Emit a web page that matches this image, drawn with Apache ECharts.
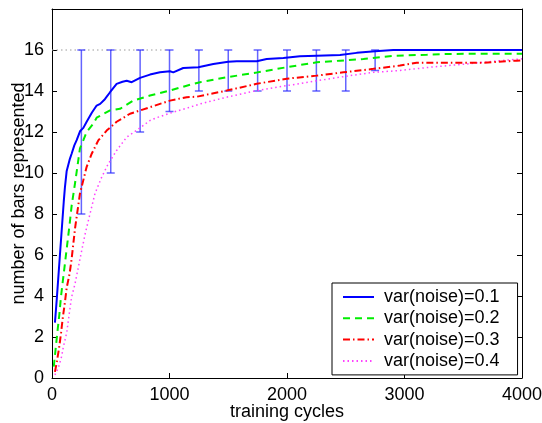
<!DOCTYPE html>
<html>
<head>
<meta charset="utf-8">
<script src="https://cdn.jsdelivr.net/npm/echarts@6/dist/echarts.min.js"></script>
<style>
html,body{margin:0;padding:0;background:#fff;}
#chart{width:542px;height:423px;}
</style>
</head>
<body>
<div id="chart"></div>
<script>
// ---- data ----
const xTicks = [0, 1000, 2000, 3000, 4000];
const yTicks = [0, 2, 4, 6, 8, 10, 12, 14, 16];

const s1Name = 'var(noise)=0.1';
const s1X = [25, 40, 60, 80, 100, 110, 125, 150, 167, 190, 210, 240, 267, 295, 340, 380, 410, 450, 494, 550, 600, 636, 678, 749, 834, 919, 1004, 1032, 1117, 1245, 1373, 1500, 1572, 1742, 1827, 1969, 2110, 2253, 2451, 2593, 2749, 2904, 4000];
const s1Y = [2.7, 3.8, 5.4, 7.0, 8.6, 9.3, 10.1, 10.65, 10.94, 11.35, 11.6, 12.05, 12.2, 12.5, 12.95, 13.29, 13.37, 13.6, 13.94, 14.35, 14.45, 14.5, 14.43, 14.64, 14.8, 14.91, 14.96, 14.91, 15.12, 15.16, 15.32, 15.43, 15.45, 15.45, 15.56, 15.61, 15.69, 15.72, 15.76, 15.86, 15.94, 16.0, 16.0];

const s2Name = 'var(noise)=0.2';
const s2X = [15, 25, 47, 62, 77, 100, 125, 150, 167, 196, 238, 267, 295, 351, 380, 494, 579, 692, 834, 1004, 1146, 1260, 1487, 1742, 1997, 2253, 2451, 2650, 2904, 3189, 3387, 4000];
const s2Y = [0.55, 1.1, 2.3, 3.07, 4.0, 5.1, 6.3, 7.5, 8.4, 9.5, 11.2, 11.6, 12.0, 12.4, 12.7, 13.05, 13.13, 13.53, 13.78, 14.02, 14.26, 14.43, 14.67, 14.9, 15.16, 15.4, 15.48, 15.56, 15.72, 15.77, 15.81, 15.82];

const s3Name = 'var(noise)=0.3';
const s3X = [25, 40, 60, 77, 91, 110, 125, 150, 167, 196, 238, 295, 338, 394, 465, 550, 664, 749, 834, 1004, 1146, 1231, 1487, 1742, 1997, 2253, 2480, 2735, 2962, 3103, 3670, 3955, 4000];
const s3Y = [0.3, 0.75, 1.45, 2.2, 2.9, 3.7, 4.4, 5.1, 5.8, 7.3, 9.0, 10.3, 10.94, 11.59, 12.07, 12.5, 12.89, 13.05, 13.21, 13.53, 13.7, 13.72, 14.02, 14.35, 14.6, 14.75, 14.91, 15.08, 15.24, 15.38, 15.38, 15.48, 15.5];

const s4Name = 'var(noise)=0.4';
const s4X = [25, 54, 82, 96, 125, 139, 153, 167, 196, 238, 281, 323, 366, 423, 479, 550, 636, 749, 834, 891, 1032, 1174, 1260, 1487, 1742, 1997, 2253, 2536, 2735, 2962, 3217, 3529, 3813, 3983, 4000];
const s4Y = [0.15, 0.5, 1.05, 1.5, 2.2, 2.8, 3.4, 3.95, 4.6, 5.8, 7.0, 8.0, 9.0, 9.8, 10.45, 11.1, 11.75, 12.2, 12.56, 12.7, 12.97, 13.21, 13.37, 13.7, 14.02, 14.26, 14.5, 14.75, 14.91, 15.0, 15.16, 15.32, 15.48, 15.56, 15.57];

const errX = [250, 500, 750, 1000, 1250, 1500, 1750, 2000, 2250, 2500, 2750];
const errLow = [8, 10, 12, 13, 14, 14, 14, 14, 14, 14, 15];
const errHigh = [16, 16, 16, 16, 16, 16, 16, 16, 16, 16, 16];

const refX = [0, 1000];
const refY = [16, 16];

// ---- chart ----
const FONT = "'Liberation Sans', Arial, Helvetica, sans-serif";
const zip = (xs, ys) => xs.map((x, i) => [x, ys[i]]);
const chart = echarts.init(document.getElementById('chart'), null, {renderer: 'canvas'});

const axisCommon = {
  axisLine: {show: true, onZero: false, lineStyle: {color: '#000', width: 1}},
  axisTick: {show: true, inside: true, length: 5, lineStyle: {color: '#000', width: 1}},
  splitLine: {show: false}
};

const errColor = 'rgba(40,40,255,0.72)';

const option = {
  animation: false,
  backgroundColor: '#fff',
  textStyle: {fontFamily: FONT},
  grid: {left: 52, right: 20, top: 9, bottom: 45, containLabel: false, outerBoundsMode: 'none'},
  xAxis: [
    Object.assign({
      type: 'value', min: 0, max: 4000, interval: 1000, position: 'bottom',
      name: 'training cycles', nameLocation: 'middle', nameGap: 25, nameMoveOverlap: false,
      nameTextStyle: {fontSize: 18, color: '#000', fontFamily: FONT},
      axisLabel: {fontSize: 18, color: '#000', margin: 8, fontFamily: FONT,
        formatter: v => (xTicks.indexOf(v) >= 0 ? String(v) : '')}
    }, axisCommon),
    Object.assign({
      type: 'value', min: 0, max: 4000, interval: 1000, position: 'top',
      axisLabel: {show: false}
    }, axisCommon)
  ],
  yAxis: [
    Object.assign({
      type: 'value', min: 0, max: 18, interval: 2, position: 'left',
      name: 'number of bars represented', nameLocation: 'middle', nameGap: 24, nameMoveOverlap: false,
      nameTextStyle: {fontSize: 18, color: '#000', fontFamily: FONT},
      axisLabel: {fontSize: 18, color: '#000', margin: 8, fontFamily: FONT,
        formatter: v => (yTicks.indexOf(v) >= 0 ? String(v) : '')}
    }, axisCommon),
    Object.assign({
      type: 'value', min: 0, max: 18, interval: 2, position: 'right',
      axisLabel: {show: false}
    }, axisCommon)
  ],
  legend: {
    data: [s1Name, s2Name, s3Name, s4Name],
    orient: 'vertical',
    left: 332, top: 283,
    padding: [5, 18, 5, 10],
    itemGap: 3.3,
    itemWidth: 31,
    itemHeight: 14,
    backgroundColor: '#fff',
    borderColor: '#000',
    borderWidth: 1,
    borderRadius: 0,
    itemStyle: {opacity: 0},
    textStyle: {fontSize: 18, color: '#000', fontFamily: FONT, lineHeight: 18, padding: [0, 0, 0, 5]}
  },
  series: [
    {
      type: 'line', name: 'ref', data: zip(refX, refY), symbol: 'none', silent: true,
      lineStyle: {color: '#9a9a9a', width: 1, type: [1.5, 3]}, z: 1
    },
    {
      type: 'custom', name: 'err', z: 2, silent: true,
      data: errX.map((x, i) => [x, errLow[i], errHigh[i]]),
      renderItem: function (params, api) {
        const x = api.value(0);
        const lo = api.coord([x, api.value(1)]);
        const hi = api.coord([x, api.value(2)]);
        const hw = 4;
        const st = {stroke: errColor, lineWidth: 1.5};
        return {
          type: 'group',
          children: [
            {type: 'line', shape: {x1: lo[0], y1: lo[1], x2: hi[0], y2: hi[1]}, style: st},
            {type: 'line', shape: {x1: lo[0] - hw, y1: lo[1], x2: lo[0] + hw, y2: lo[1]}, style: st},
            {type: 'line', shape: {x1: hi[0] - hw, y1: hi[1], x2: hi[0] + hw, y2: hi[1]}, style: st}
          ]
        };
      }
    },
    {
      type: 'line', name: s4Name, data: zip(s4X, s4Y), symbol: 'none', z: 3,
      lineStyle: {color: '#ff40ff', width: 1.5, type: [1.5, 3]},
      itemStyle: {color: '#ff40ff'}
    },
    {
      type: 'line', name: s3Name, data: zip(s3X, s3Y), symbol: 'none', z: 4,
      lineStyle: {color: '#ff0000', width: 2, type: [7, 3, 1.5, 3]},
      itemStyle: {color: '#ff0000'}
    },
    {
      type: 'line', name: s2Name, data: zip(s2X, s2Y), symbol: 'none', z: 5,
      lineStyle: {color: '#00ee00', width: 2, type: [7, 5]},
      itemStyle: {color: '#00ee00'}
    },
    {
      type: 'line', name: s1Name, data: zip(s1X, s1Y), symbol: 'none', z: 6,
      lineStyle: {color: '#0000ff', width: 2},
      itemStyle: {color: '#0000ff'}
    }
  ]
};
chart.setOption(option);
</script>
</body>
</html>
